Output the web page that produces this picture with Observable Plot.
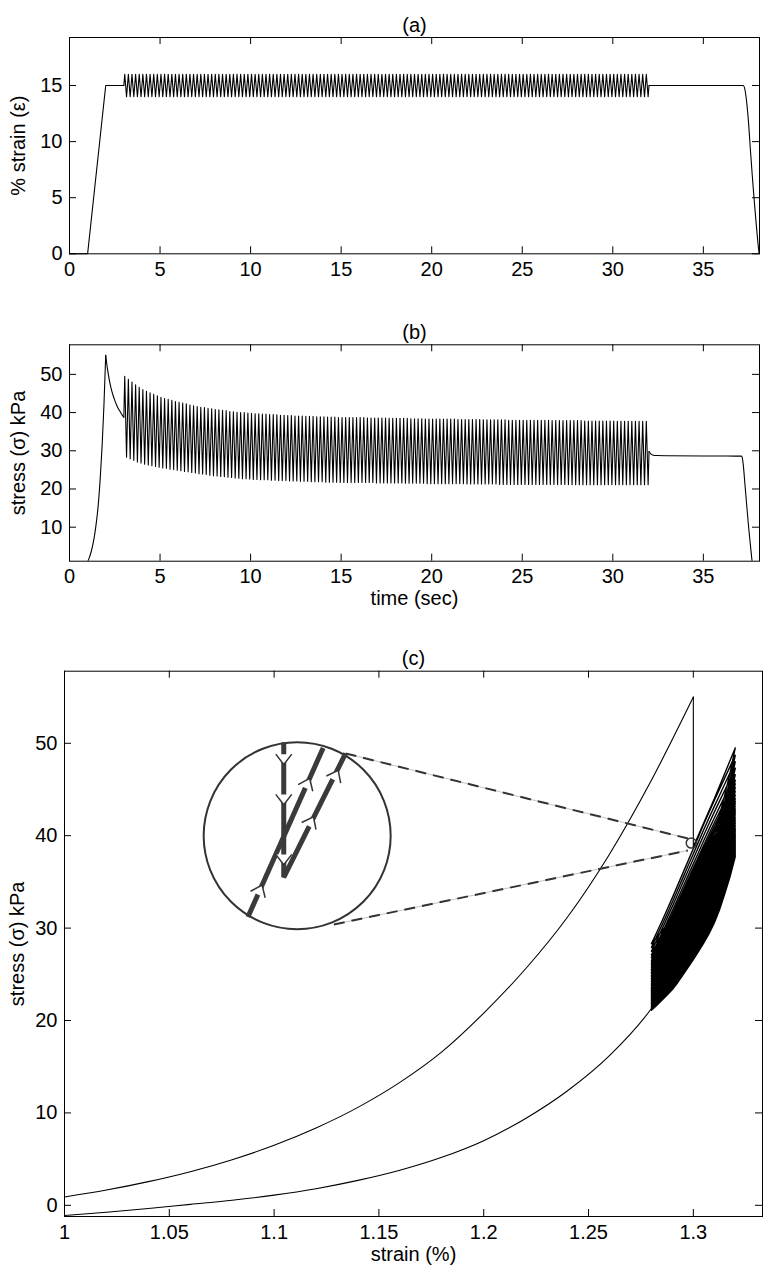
<!DOCTYPE html>
<html><head><meta charset="utf-8">
<script src="https://cdn.jsdelivr.net/npm/d3@7"></script>
<script src="https://cdn.jsdelivr.net/npm/@observablehq/plot@0.6"></script>
<style>
body{margin:0;background:#fff;}
#chart{position:relative;width:768px;height:1277px;}
#chart svg{position:absolute;left:0;}
</style></head><body><div id="chart"></div>
<script>
// ---------- tick values ----------
const timeTicks = [0, 5, 10, 15, 20, 25, 30, 35];
const strainPctTicks = [0, 5, 10, 15];
const stressTicksB = [10, 20, 30, 40, 50];
const stressTicksC = [0, 10, 20, 30, 40, 50];
const stretchTicks = [1, 1.05, 1.1, 1.15, 1.2, 1.25, 1.3];

// ---------- panel (a): strain vs time ----------
const rampTime = [0, 1, 2, 3];
const rampStrain = [0, 0, 15, 15];
const cycleStart = 3, cyclePeriod = 0.2, cycleEnd = 32;
const strainHigh = 16, strainLow = 14, strainMean = 15;
const aHoldTime = [32, 37.2, 37.3, 37.4, 37.5, 37.6, 37.7, 37.8, 37.9, 38.0, 38.08];
const aHoldStrain = [15, 15, 14.6, 13.4, 11.6, 9.2, 7.0, 4.9, 3.0, 1.2, 0];

// ---------- panel (b): stress vs time ----------
const bLoadTime = [1.0, 1.1, 1.2, 1.3, 1.4, 1.5, 1.6, 1.7, 1.8, 1.9, 2.0];
const bLoadStress = [0.9, 2.1, 3.64, 5.7, 8.4, 11.9, 16.5, 23.1, 31.2, 41.7, 55.0];
const bRelaxTime = [2.0, 2.1, 2.2, 2.3, 2.4, 2.5, 2.6, 2.7, 2.8, 2.9, 3.0];
const bRelaxStress = [55.0, 51.3, 48.5, 46.3, 44.6, 43.2, 42.0, 41.0, 40.2, 39.4, 38.8];
// per-cycle stress peaks and troughs (145 cycles, t = 3 .. 32 s)
const peakStress = [
 49.5,48.7,48.0,47.3,46.6,46.0,45.6,45.2,44.8,44.4,
 44.0,43.7,43.5,43.2,42.9,42.7,42.5,42.3,42.0,41.8,
 41.6,41.4,41.3,41.1,41.0,40.8,40.7,40.6,40.5,40.3,
 40.2,40.1,40.0,40.0,39.9,39.8,39.7,39.7,39.6,39.6,
 39.5,39.5,39.4,39.3,39.3,39.2,39.2,39.1,39.1,39.1,
 39.0,39.0,39.0,38.9,38.9,38.9,38.8,38.8,38.8,38.7,
 38.7,38.7,38.7,38.7,38.7,38.7,38.7,38.6,38.6,38.6,
 38.6,38.6,38.6,38.5,38.5,38.5,38.5,38.5,38.5,38.4,
 38.4,38.4,38.4,38.3,38.3,38.3,38.3,38.3,38.3,38.3,
 38.3,38.3,38.2,38.2,38.2,38.2,38.2,38.2,38.2,38.1,
 38.1,38.1,38.1,38.1,38.1,38.1,38.0,38.0,38.0,38.0,
 38.0,38.0,38.0,38.0,38.0,38.0,38.0,38.0,37.9,37.9,
 37.9,37.9,37.9,37.9,37.9,37.9,37.9,37.8,37.8,37.8,
 37.8,37.8,37.8,37.8,37.8,37.8,37.7,37.7,37.7,37.7,
 37.7,37.7,37.7,37.7,37.7];
const troughStress = [
 28.3,27.9,27.5,27.1,26.8,26.5,26.3,26.1,25.9,25.7,
 25.5,25.4,25.2,25.1,24.9,24.8,24.6,24.5,24.3,24.2,
 24.0,23.9,23.8,23.6,23.5,23.4,23.3,23.2,23.1,23.0,
 22.9,22.8,22.7,22.7,22.6,22.5,22.5,22.4,22.4,22.4,
 22.3,22.3,22.2,22.2,22.2,22.1,22.1,22.1,22.0,22.0,
 22.0,21.9,21.9,21.9,21.9,21.8,21.8,21.8,21.8,21.7,
 21.7,21.7,21.7,21.7,21.7,21.7,21.7,21.7,21.7,21.6,
 21.6,21.6,21.6,21.6,21.6,21.6,21.6,21.5,21.5,21.5,
 21.5,21.5,21.5,21.4,21.4,21.4,21.4,21.4,21.4,21.4,
 21.4,21.4,21.4,21.4,21.3,21.3,21.3,21.3,21.3,21.3,
 21.3,21.3,21.3,21.2,21.2,21.2,21.2,21.2,21.2,21.2,
 21.2,21.2,21.2,21.2,21.2,21.2,21.2,21.2,21.2,21.2,
 21.2,21.2,21.2,21.1,21.1,21.1,21.1,21.1,21.1,21.1,
 21.1,21.1,21.1,21.1,21.1,21.1,21.1,21.1,21.1,21.1,
 21.1,21.1,21.1,21.1,21.1];
const bEndStress = 29.8;
const bHoldTime = [32.0, 32.1, 32.2, 32.4, 33, 35, 37.1, 37.15, 37.2, 37.3, 37.4, 37.5, 37.6, 37.7, 37.75];
const bHoldStress = [29.8, 29.2, 28.9, 28.75, 28.7, 28.65, 28.6, 28.2, 26.5, 21.0, 15.4, 10.0, 5.2, 0.6, -1.5];

// ---------- panel (c): stress vs strain ----------
const cLoadStrain = [1.00,1.02,1.04,1.06,1.08,1.10,1.12,1.14,1.16,1.18,1.20,1.22,1.24,1.26,1.28,1.30];
const cLoadStress = [0.9,1.65,2.56,3.64,4.94,6.5,8.37,10.6,13.3,16.6,20.8,25.6,31.2,38.0,46.0,55.0];
const cRelaxStrain = [1.30, 1.30];
const cRelaxStress = [55.0, 38.8];
const loopStrainMin = 1.28, loopStrainMax = 1.32;
const loopPhase = [0, .0625, .125, .1875, .25, .3125, .375, .4375, .5, .5625, .625, .6875, .75, .8125, .875, .9375, 1];
const loadingShape = [0, .06, .12, .182, .245, .31, .375, .44, .505, .57, .635, .698, .76, .82, .88, .94, 1];
const unloadingShape = [0, .032, .065, .1, .135, .18, .23, .28, .33, .385, .44, .5, .57, .655, .76, .87, 1];
const cFirstHalfStrain = [1.30, 1.31, 1.32];
const cFirstHalfStress = [38.8, 44.0, 49.5];
const cLastHalfStrain = [1.29, 1.30, 1.30];
const cLastHalfStress = [25.4, 29.8, 28.6];
const cUnloadStrain = [1.00,1.02,1.04,1.06,1.08,1.10,1.12,1.14,1.16,1.18,1.20,1.22,1.24,1.26,1.28,1.29,1.30];
const cUnloadStress = [-1.1,-0.75,-0.35,0.1,0.55,1.1,1.8,2.7,3.8,5.2,7.0,9.4,12.4,16.2,21.3,24.8,28.6];

// magnifier annotation (data coordinates)
const zoomCircle = [{x: 1.111, y: 40.0}];
const markCircle = [{x: 1.299, y: 39.2}];
const connX1 = [1.1341, 1.1285], connY1 = [48.9, 30.4];
const connX2 = [1.2974, 1.2974], connY2 = [39.7, 38.4];
const insetVX = [1.1046, 1.1046, 1.1341], insetVY = [50.1, 35.5, 48.9];
const insetDX = [1.0875, 1.1234], insetDY = [31.2, 49.5];
const chevX = [1.1046, 1.1046, 1.1046, 1.0931, 1.1158, 1.1175, 1.1293];
const chevY = [48.35, 43.99, 37.5, 34.07, 45.6, 41.46, 46.5];
const chevAngle = [0, 0, 0, 204, 204, 206.6, 206.6];

// ---------- build tables ----------
const zip = (xs, ys) => xs.map((x, i) => ({x, y: ys[i]}));
const cycleIdx = d3.range(peakStress.length);

const aRamp = zip(rampTime, rampStrain);
const aOsc = [{x: cycleStart, y: strainMean}];
cycleIdx.forEach(i => {
  aOsc.push({x: cycleStart + cyclePeriod * i + cyclePeriod / 4, y: strainHigh});
  aOsc.push({x: cycleStart + cyclePeriod * i + 3 * cyclePeriod / 4, y: strainLow});
});
aOsc.push({x: cycleEnd, y: strainMean});
const aHold = zip(aHoldTime, aHoldStrain);

const bLoad = zip(bLoadTime, bLoadStress);
const bRelax = zip(bRelaxTime, bRelaxStress);
const bOsc = [{x: cycleStart, y: bRelaxStress[bRelaxStress.length - 1]}];
cycleIdx.forEach(i => {
  bOsc.push({x: cycleStart + cyclePeriod * i + cyclePeriod / 4, y: peakStress[i]});
  bOsc.push({x: cycleStart + cyclePeriod * i + 3 * cyclePeriod / 4, y: troughStress[i]});
});
bOsc.push({x: cycleEnd, y: bEndStress});
const bHold = zip(bHoldTime, bHoldStress);

const cLoad = zip(cLoadStrain, cLoadStress);
const cRelax = zip(cRelaxStrain, cRelaxStress);
const cLoops = zip(cFirstHalfStrain, cFirstHalfStress);
const loopX = k => loopStrainMin + (loopStrainMax - loopStrainMin) * loopPhase[k];
cycleIdx.forEach(i => {
  const pk = peakStress[i], tr = troughStress[i];
  for (let k = loopPhase.length - 2; k >= 0; k--) cLoops.push({x: loopX(k), y: tr + unloadingShape[k] * (pk - tr)});
  if (i < peakStress.length - 1) {
    const next = peakStress[i + 1];
    for (let k = 1; k < loopPhase.length; k++) cLoops.push({x: loopX(k), y: tr + loadingShape[k] * (next - tr)});
  }
});
zip(cLastHalfStrain, cLastHalfStress).forEach(p => cLoops.push(p));
const cUnload = zip(cUnloadStrain, cUnloadStress);
const connectors = connX1.map((x1, i) => ({x1, y1: connY1[i], x2: connX2[i], y2: connY2[i]}));
const insetV = zip(insetVX, insetVY);
const insetD = zip(insetDX, insetDY);
const chevrons = chevX.map((x, i) => ({x, y: chevY[i], a: chevAngle[i]}));

// ---------- helpers ----------
const FONT = "'Liberation Sans', Arial, Helvetica, sans-serif";
const FS = 20;
const TICK = 7;
const txt = {fill: "#000", fontSize: FS, fontFamily: FONT};
function boxMarks({xTicks, yTicks, W, H, xFormat, title, xLabel, yLabel, yLabelDx}) {
  const m = [
    Plot.frame({stroke: "#000", strokeWidth: 1}),
    Plot.tickX(xTicks, {x: d => d, insetTop: H - TICK, stroke: "#000"}),
    Plot.tickX(xTicks, {x: d => d, insetBottom: H - TICK, stroke: "#000"}),
    Plot.tickY(yTicks, {y: d => d, insetRight: W - TICK, stroke: "#000"}),
    Plot.tickY(yTicks, {y: d => d, insetLeft: W - TICK, stroke: "#000"}),
    Plot.axisX(xTicks, {anchor: "bottom", tickSize: 0, tickPadding: 8, label: null, tickFormat: xFormat, ...txt}),
    Plot.axisY(yTicks, {anchor: "left", tickSize: 0, tickPadding: 7, label: null, ...txt}),
    Plot.text([title], {frameAnchor: "top", dy: -20, text: d => d, textAnchor: "middle", ...txt}),
    Plot.text([yLabel], {frameAnchor: "left", dx: yLabelDx, rotate: -90, text: d => d, textAnchor: "middle", lineAnchor: "middle", ...txt})
  ];
  if (xLabel) m.push(Plot.text([xLabel], {frameAnchor: "bottom", dy: 44, text: d => d, textAnchor: "middle", ...txt}));
  return m;
}
const style = `font-family: ${FONT}; font-size: ${FS}px; color: #000; background: transparent; overflow: visible;`;
const lineOpt = {x: "x", y: "y", stroke: "#000", strokeWidth: 1.1};

// ---------- panel (a) ----------
const plotA = Plot.plot({
  width: 768, height: 300,
  marginTop: 37, marginBottom: 46.7, marginLeft: 69, marginRight: 9,
  x: {domain: [0, 38.1]}, y: {domain: [0, 19.28]},
  style,
  marks: [
    Plot.line(aRamp, {...lineOpt}),
    Plot.line(aOsc, {...lineOpt}),
    Plot.line(aHold, {...lineOpt, curve: "monotone-x"}),
    ...boxMarks({xTicks: timeTicks, yTicks: strainPctTicks, W: 690, H: 216.3, xFormat: d => String(d),
      title: "(a)", xLabel: null, yLabel: "% strain (ε)", yLabelDx: -51})
  ]
});

// ---------- panel (b) ----------
const plotB = Plot.plot({
  width: 768, height: 330,
  marginTop: 44.3, marginBottom: 69.3, marginLeft: 69, marginRight: 9,
  x: {domain: [0, 38.1]}, y: {domain: [1.1, 57.74]},
  style,
  marks: [
    Plot.line(bLoad, {...lineOpt, curve: "monotone-x", clip: true}),
    Plot.line(bRelax, {...lineOpt, curve: "monotone-x", clip: true}),
    Plot.line(bOsc, {...lineOpt, clip: true}),
    Plot.line(bHold, {...lineOpt, curve: "monotone-x", clip: true}),
    ...boxMarks({xTicks: timeTicks, yTicks: stressTicksB, W: 690, H: 216.4, xFormat: d => String(d),
      title: "(b)", xLabel: "time (sec)", yLabel: "stress (σ) kPa", yLabelDx: -51})
  ]
});

// ---------- panel (c) ----------
const chevronSymbol = {
  draw(context, size) {
    const r = Math.sqrt(size / Math.PI);
    context.moveTo(-r, -0.55 * r);
    context.lineTo(0, 0.75 * r);
    context.lineTo(r, -0.55 * r);
  }
};
const plotC = Plot.plot({
  width: 768, height: 647,
  marginTop: 40.7, marginBottom: 61, marginLeft: 64, marginRight: 6,
  x: {domain: [1, 1.333]}, y: {domain: [-1.21, 57.8]},
  style,
  marks: [
    Plot.line(cLoad, {...lineOpt, curve: "monotone-x"}),
    Plot.line(cRelax, {...lineOpt}),
    Plot.line(cLoops, {...lineOpt, strokeWidth: 1.4}),
    Plot.line(cUnload, {...lineOpt, curve: "monotone-x"}),
    Plot.link(connectors, {x1: "x1", y1: "y1", x2: "x2", y2: "y2", stroke: "#c4c4c4", strokeWidth: 1}),
    Plot.link(connectors, {x1: "x1", y1: "y1", x2: "x2", y2: "y2", stroke: "#333", strokeWidth: 2, strokeDasharray: "11,7"}),
    Plot.dot(markCircle, {x: "x", y: "y", r: 5, stroke: "#333", strokeWidth: 1.5, fill: "none"}),
    Plot.dot(zoomCircle, {x: "x", y: "y", r: 93.5, stroke: "#333", strokeWidth: 2, fill: "none"}),
    Plot.line(insetV, {x: "x", y: "y", stroke: "#3a3a3a", strokeWidth: 5, strokeLinejoin: "miter", strokeLinecap: "butt"}),
    Plot.line(insetD, {x: "x", y: "y", stroke: "#3a3a3a", strokeWidth: 5, strokeLinecap: "butt"}),
    Plot.dot(chevrons, {x: "x", y: "y", r: 8, symbol: chevronSymbol, rotate: "a", fill: "white", stroke: "#333", strokeWidth: 1.5}),
    ...boxMarks({xTicks: stretchTicks, yTicks: stressTicksC, W: 698, H: 545.3, xFormat: d => String(+d.toFixed(2)),
      title: "(c)", xLabel: "strain (%)", yLabel: "stress (σ) kPa", yLabelDx: -47})
  ]
});

const chart = document.getElementById("chart");
[[plotA, 0], [plotB, 300], [plotC, 630]].forEach(([svg, top]) => {
  svg.style.top = top + "px";
  chart.appendChild(svg);
});
</script></body></html>
